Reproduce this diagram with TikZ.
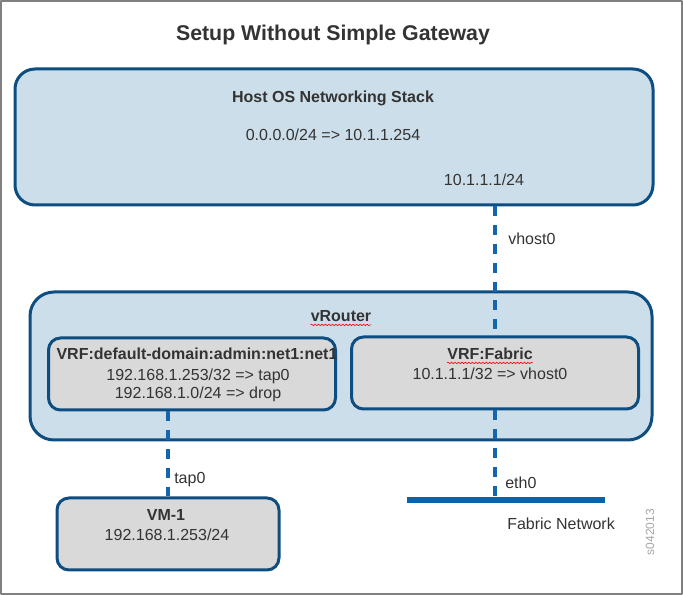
\documentclass[tikz,border=0pt]{standalone}
\usepackage{fontspec}
\setmainfont{Liberation Sans}
\usetikzlibrary{decorations.pathmorphing}

\definecolor{bordo}{HTML}{0E4D80}
\definecolor{azzurro}{HTML}{CCDEEA}
\definecolor{grigio}{HTML}{D9D9D9}
\definecolor{tratto}{HTML}{1565AE}
\definecolor{linea}{HTML}{0863AA}
\definecolor{testo}{HTML}{333333}

\begin{document}
\begin{tikzpicture}[x=0.75pt,y=-0.75pt,line join=round,
    font=\fontsize{12}{14}\selectfont,text=testo,
    scatola/.style={draw=bordo,line width=2.25pt,rounded corners=#1,inner sep=0pt},
    scatola/.default=9pt,
    vrf/.style={scatola,fill=grigio,minimum width=215.25pt,minimum height=54pt},
    scritta/.style={anchor=base,inner sep=0pt},
    titolo/.style={scritta,font=\fontsize{12}{14}\selectfont\bfseries},
    tubo/.style={draw=tratto,line width=2.5pt,dash pattern=on 7.5pt off 6.6pt},
    rete/.style={draw=linea,line width=4.5pt},
    ondina/.style={draw=red,line width=0.45pt,decorate,
      decoration={snake,amplitude=0.55pt,segment length=2.6pt}}]

  \useasboundingbox (0,0) rectangle (683,595);
  \draw[gray,line width=1.5pt] (1,1) rectangle (682,594);

  % ---- titolo ---------------------------------------------------------------
  \node[scritta,font=\fontsize{16}{18}\selectfont\bfseries] (tit) at (333,40.5)
    {Setup Without Simple Gateway};

  % ---- lo stack di rete dell'host ------------------------------------------
  \node[scatola=15pt,fill=azzurro,minimum width=478.5pt,minimum height=102pt]
    (host) at (334,137) {};
  \node[titolo] (lhost) at (333,103) {Host OS Networking Stack};
  \node[scritta] (rhost) at (333,141) {0.0.0.0/24 => 10.1.1.254};
  \node[scritta] (ihost) at (484,186) {10.1.1.1/24};

  % ---- il vRouter con le due VRF --------------------------------------------
  \node[scatola=18pt,fill=azzurro,minimum width=466.5pt,minimum height=111pt]
    (vr) at (341,366) {};
  \node[titolo] (lvr) at (341,322) {vRouter};

  \node[vrf] (vrfn) at (192,374) {};
  \node[titolo] (lvrfn) at (197,360) {VRF:default-domain:admin:net1:net1};
  \node[scritta] (rvrfn1) at (198,381) {192.168.1.253/32 => tap0};
  \node[scritta] (rvrfn2) at (198,399) {192.168.1.0/24 => drop};

  \node[vrf] (fab) at (495,373) {};
  \node[titolo] (lfab) at (490,360) {VRF:Fabric};
  \node[scritta] (rfab) at (490,380) {10.1.1.1/32 => vhost0};

  \draw[ondina] ([yshift=-2.2pt]lvr.base west) -- ([yshift=-2.2pt]lvr.base east);
  \draw[ondina] ([yshift=-2.2pt]lfab.base west) -- ([yshift=-2.2pt]lfab.base east);

  % ---- la VM -----------------------------------------------------------------
  \node[scatola,fill=grigio,minimum width=166.5pt,minimum height=54pt]
    (vm) at (168,534) {};
  \node[titolo] (lvm) at (166,521) {VM-1};
  \node[scritta] (ivm) at (167,541) {192.168.1.253/24};

  % ---- rete di fabric --------------------------------------------------------
  \coordinate (fn1) at (407,500);
  \coordinate (fn2) at (605,500);
  \draw[rete] (fn1) -- (fn2);
  \node[scritta,anchor=base west] (lfn) at (507,530) {Fabric Network};

  % ---- collegamenti ------------------------------------------------------------
  \draw[tubo] (host.south -| fab.north) -- (fab.north);
  \draw[tubo] (fab.south) -- (fab.south |- fn1);
  \draw[tubo] (vm.north |- vrfn.south) -- (vm.north);

  \node[scritta,anchor=base west] (vhost) at (508,245) {vhost0};
  \node[scritta,anchor=base west] (tap) at (174,484) {tap0};
  \node[scritta,anchor=base west] (eth) at (505,489) {eth0};

  \node[rotate=90,inner sep=0pt,text=gray!70,font=\fontsize{9}{10}\selectfont]
    (cod) at (650,532) {s042013};

\end{tikzpicture}
\end{document}
